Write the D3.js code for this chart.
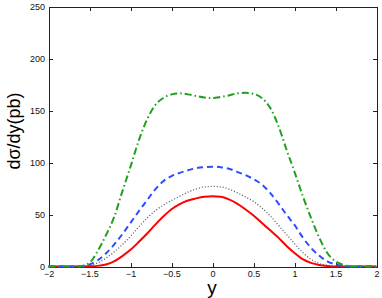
<!DOCTYPE html>
<html>
<head>
<meta charset="utf-8">
<script src="https://cdn.jsdelivr.net/npm/d3@7"></script>
<style>
  body { margin: 0; background: #fff; }
  svg { display: block; font-family: "Liberation Sans", Arial, sans-serif; }
  .axis path, .axis line { stroke: #222; shape-rendering: crispEdges; }
  .axis text { font-size: 9px; fill: #111; }
</style>
</head>
<body>
<script>
// rapidity grid
var ys = [-2, -1.9, -1.8, -1.7, -1.6, -1.5, -1.4, -1.3, -1.2, -1.1, -1.0, -0.9, -0.8, -0.7, -0.6, -0.5, -0.4, -0.3, -0.2, -0.1,
          0, 0.1, 0.2, 0.3, 0.4, 0.5, 0.6, 0.7, 0.8, 0.9, 1.0, 1.1, 1.2, 1.3, 1.4, 1.5, 1.6, 1.7, 1.8, 1.9, 2];

var redVals = [0, 0, 0, 0, 0, 0.2, 0.6, 2, 5, 10, 16, 23.5, 31.5, 40, 48, 55, 60, 63.5, 65.5, 67,
               67.5, 67, 64.5, 60.5, 55, 49, 42, 35, 28, 20, 13, 7, 3.5, 1.5, 0.5, 0, 0, 0, 0, 0, 0];
var dotVals = [0, 0, 0, 0, 0.2, 1, 3.5, 8, 14, 21, 29, 38, 46.5, 53.5, 59, 63.5, 67.5, 71.5, 74.5, 76.5,
               77, 76.5, 74.5, 71, 67, 62.5, 56.5, 49, 40, 31, 22, 13.5, 7, 3, 1, 0.3, 0, 0, 0, 0, 0];
var blueVals = [0, 0, 0, 0, 0.3, 2, 6, 12.5, 21, 31, 42, 53, 63.5, 74, 82, 87, 90, 92.5, 94.5, 95.5,
                96, 95.5, 94, 91, 88, 84, 79, 71, 61, 50, 40, 28, 18, 10.5, 5, 2, 0.5, 0, 0, 0, 0];
var greenVals = [0, 0, 0, 0, 0.5, 3.5, 15, 30, 47.5, 72, 96, 121, 141, 155, 162, 165.5, 166.5, 165.5, 164, 162.5,
                 162, 163, 164.5, 166.5, 167, 166, 162, 153, 136, 113, 91, 68, 47, 28, 13, 5, 1.5, 0, 0, 0, 0];

var xTicks = [-2, -1.5, -1, -0.5, 0, 0.5, 1, 1.5, 2];
var yTicks = [0, 50, 100, 150, 200, 250];

var series = [
  {name: "red", values: redVals, color: "#ff0000", width: 2, dash: null},
  {name: "dot", values: dotVals, color: "#555", width: 1.3, dash: "1,2"},
  {name: "blue", values: blueVals, color: "#2b4cff", width: 2, dash: "6,4"},
  {name: "green", values: greenVals, color: "#1fa01f", width: 2, dash: "7,3,1.5,3"}
];

var svg = d3.select("body").append("svg").attr("width", 382).attr("height", 298);

var x = d3.scaleLinear().domain([-2, 2]).range([48.5, 376.5]);
var y = d3.scaleLinear().domain([0, 250]).range([266.5, 6.5]);

var fmt = function(d) { return d3.format("")(d).replace("-", "\u2212"); };

// box with inward ticks (matlab style)
svg.append("g").attr("class", "axis")
  .attr("transform", "translate(0,266.5)")
  .call(d3.axisBottom(x).tickValues(xTicks).tickSize(-4).tickPadding(4).tickFormat(fmt));
svg.append("g").attr("class", "axis")
  .attr("transform", "translate(0,6.5)")
  .call(d3.axisTop(x).tickValues(xTicks).tickSize(-4).tickFormat(""));
svg.append("g").attr("class", "axis")
  .attr("transform", "translate(48.5,0)")
  .call(d3.axisLeft(y).tickValues(yTicks).tickSize(-4).tickPadding(3.5).tickFormat(fmt));
svg.append("g").attr("class", "axis")
  .attr("transform", "translate(376.5,0)")
  .call(d3.axisRight(y).tickValues(yTicks).tickSize(-4).tickFormat(""));

var line = d3.line()
  .x(function(d, i) { return x(ys[i]); })
  .y(function(d) { return y(d); })
  .curve(d3.curveMonotoneX);

svg.selectAll(".series")
  .data(series)
  .enter().append("path")
    .attr("class", "series")
    .attr("fill", "none")
    .attr("stroke", function(d) { return d.color; })
    .attr("stroke-width", function(d) { return d.width; })
    .attr("stroke-dasharray", function(d) { return d.dash; })
    .attr("d", function(d) { return line(d.values); });

// axis titles
svg.append("text")
  .attr("x", 212).attr("y", 294)
  .attr("text-anchor", "middle")
  .style("font-size", "19px")
  .text("y");

svg.append("text")
  .attr("transform", "translate(20,131) rotate(-90)")
  .attr("text-anchor", "middle")
  .style("font-size", "18px")
  .text("dσ/dy(pb)");
</script>
</body>
</html>
